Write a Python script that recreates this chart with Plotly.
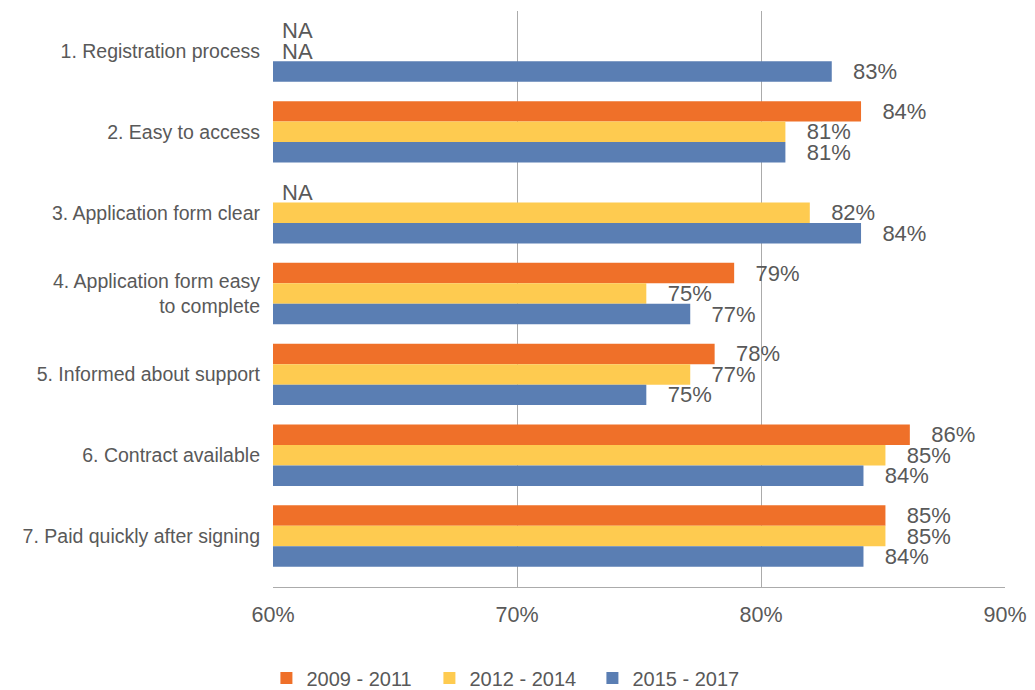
import plotly.graph_objects as go

# ---- data ----
categories = [
    "1. Registration process",
    "2. Easy to access",
    "3. Application form clear",
    "4. Application form easy<br>to complete",
    "5. Informed about support",
    "6. Contract available",
    "7. Paid quickly after signing",
]
period_2009_2011 = [None, 84.1, None, 78.9, 78.1, 86.1, 85.1]
period_2012_2014 = [None, 81.0, 82.0, 75.3, 77.1, 85.1, 85.1]
period_2015_2017 = [82.9, 81.0, 84.1, 77.1, 75.3, 84.2, 84.2]

series_names = ["2009 - 2011", "2012 - 2014", "2015 - 2017"]
series_colors = ["#EF7029", "#FECB50", "#5A7EB3"]

X_MIN, X_MAX = 60, 90
TEXT_COLOR = "#595959"
GRID_COLOR = "#ABABAB"
FONT = "Liberation Sans, Arial, sans-serif"

fig = go.Figure()

for name, color, values in zip(series_names,
                               series_colors,
                               [period_2009_2011, period_2012_2014, period_2015_2017]):
    # missing values: zero-length bar at the axis start, labelled NA
    xs = [X_MIN if v is None else v for v in values]
    labels = [" NA" if v is None else f"   {round(v)}%" for v in values]
    fig.add_trace(go.Bar(
        x=xs,
        y=categories,
        orientation="h",
        name=name,
        marker=dict(color=color, line=dict(width=0)),
        text=labels,
        textposition="outside",
        constraintext="none",
        textfont=dict(size=22, color=TEXT_COLOR, family=FONT),
        hovertemplate=f"<b>{name}</b><br>%{{y}}: %{{x:.0f}}%<extra></extra>",
    ))

fig.update_layout(
    width=1035,
    height=690,
    margin=dict(l=273, r=30, t=11, b=103, autoexpand=False),
    paper_bgcolor="white",
    plot_bgcolor="white",
    barmode="group",
    bargap=0.24,
    bargroupgap=0,
    font=dict(family=FONT, color=TEXT_COLOR),
    legend=dict(
        orientation="h",
        x=-0.009,
        xanchor="left",
        y=-0.158,
        yanchor="middle",
        font=dict(size=20, color=TEXT_COLOR),
        entrywidth=118,
        traceorder="normal",
    ),
)

fig.update_xaxes(
    range=[X_MIN, X_MAX],
    tickvals=[60, 70, 80, 90],
    ticktext=["60%", "70%", "80%", "90%"],
    showgrid=True,
    gridcolor=GRID_COLOR,
    gridwidth=1,
    showline=True,
    linecolor=GRID_COLOR,
    linewidth=1,
    zeroline=False,
    ticks="",
    ticklabelstandoff=8,
    automargin=False,
    tickfont=dict(size=21.5, color=TEXT_COLOR),
)

fig.update_yaxes(
    categoryorder="array",
    categoryarray=categories,
    range=[6.63, -0.495],
    showgrid=False,
    showline=False,
    zeroline=False,
    ticks="",
    ticklabelstandoff=12,
    automargin=False,
    tickfont=dict(size=19.5, color=TEXT_COLOR),
)

# the page body has a default 8px margin; drop it so the figure fills the window
fig.write_html("out.html",
               config={"displayModeBar": False},
               post_script="document.body.style.margin='0';")
